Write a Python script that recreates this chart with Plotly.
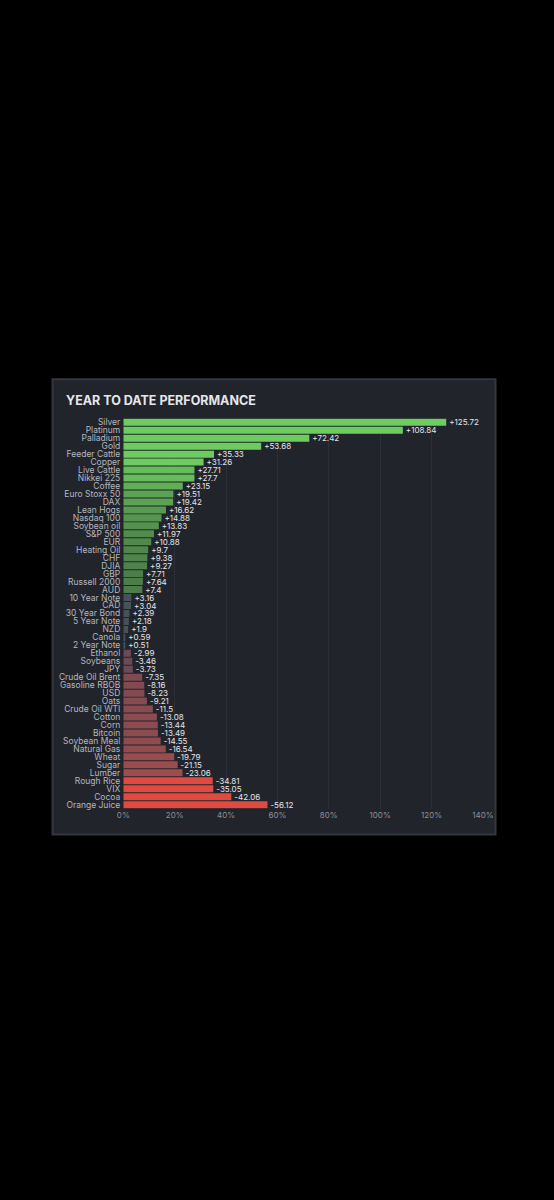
"""
Year to date performance - horizontal bars (absolute %), coloured by sign
"""

import plotly.graph_objects as go

# データ
names = [
    "Silver", "Platinum", "Palladium", "Gold", "Feeder Cattle", "Copper",
    "Live Cattle", "Nikkei 225", "Coffee", "Euro Stoxx 50", "DAX", "Lean Hogs",
    "Nasdaq 100", "Soybean oil", "S&P 500", "EUR", "Heating Oil", "CHF", "DJIA",
    "GBP", "Russell 2000", "AUD", "10 Year Note", "CAD", "30 Year Bond",
    "5 Year Note", "NZD", "Canola", "2 Year Note", "Ethanol", "Soybeans", "JPY",
    "Crude Oil Brent", "Gasoline RBOB", "USD", "Oats", "Crude Oil WTI", "Cotton",
    "Corn", "Bitcoin", "Soybean Meal", "Natural Gas", "Wheat", "Sugar", "Lumber",
    "Rough Rice", "VIX", "Cocoa", "Orange Juice",
]
ytd = [
    125.72, 108.84, 72.42, 53.68, 35.33, 31.26,
    27.71, 27.7, 23.15, 19.51, 19.42, 16.62,
    14.88, 13.83, 11.97, 10.88, 9.7, 9.38, 9.27,
    7.71, 7.64, 7.4, 3.16, 3.04, 2.39,
    2.18, 1.9, 0.59, 0.51, -2.99, -3.46, -3.73,
    -7.35, -8.16, -8.23, -9.21, -11.5, -13.08,
    -13.44, -13.49, -14.55, -16.54, -19.79, -21.15, -23.06,
    -34.81, -35.05, -42.06, -56.12,
]
x_ticks = [0, 20, 40, 60, 80, 100, 120, 140]


def mix(c1, c2, t):
    return "rgb({},{},{})".format(*[round(a + (b - a) * t) for a, b in zip(c1, c2)])


def bar_color(v):
    m = abs(v)
    if v >= 0:
        if m < 5:
            return "rgb(72,80,88)"
        if m >= 30:
            return "rgb(108,204,96)"
        return mix((74, 118, 71), (104, 196, 92), (m - 5) / 25)
    if m < 5:
        return "rgb(106,74,86)"
    if m >= 30:
        return "rgb(224,74,64)"
    return mix((124, 74, 82), (172, 77, 76), (m - 5) / 25)


colors = [bar_color(v) for v in ytd]
labels = [f"{v:+g}" for v in ytd]

W, H = 554, 1200
FONT = "Inter, Noto Sans, sans-serif"

fig = go.Figure(
    go.Bar(
        x=[abs(v) for v in ytd],
        y=names,
        orientation="h",
        marker=dict(color=colors, line=dict(width=0)),
        text=labels,
        textposition="outside",
        constraintext="none",
        cliponaxis=False,
        textfont=dict(color="#e4e6ea", size=8, family=FONT),
        hoverinfo="skip",
    )
)

# パネル背景
fig.add_shape(
    type="rect", xref="paper", yref="paper",
    x0=48 / W, x1=505 / W, y0=1 - 835 / H, y1=1 - 379 / H,
    fillcolor="#22242c", line=dict(color="#34373f", width=2), layer="below",
)

fig.add_annotation(
    text="<b>YEAR TO DATE PERFORMANCE</b>",
    xref="paper", yref="paper", x=60 / W, y=1 - 400 / H,
    xanchor="left", yanchor="middle", showarrow=False,
    font=dict(color="#e6e7ea", size=12.5, family=FONT),
)

fig.update_layout(
    width=W, height=H, autosize=False,
    paper_bgcolor="#000000",
    plot_bgcolor="rgba(0,0,0,0)",
    margin=dict(l=0, r=0, t=0, b=0),
    bargap=0.12,
    showlegend=False,
    font=dict(family=FONT),
    xaxis=dict(
        domain=[121 / W, 492 / W],
        range=[0, 140],
        tickvals=x_ticks,
        ticktext=[f"{t}%" for t in x_ticks],
        tickfont=dict(color="#8c9099", size=8),
        showgrid=True, gridcolor="#2c2f37", gridwidth=1,
        zeroline=False, showline=False, ticks="", ticklen=0,
        fixedrange=True,
    ),
    yaxis=dict(
        domain=[1 - 809 / H, 1 - 418 / H],
        autorange="reversed",
        tickmode="array", tickvals=names, ticktext=names,
        tickfont=dict(color="#b4b7be", size=8.5),
        showgrid=False, zeroline=False, ticks="", ticklabelstandoff=2,
        fixedrange=True,
    ),
)

fig.write_html(
    "out.html",
    config={"displayModeBar": False},
    post_script=(
        "document.body.style.margin='0';"
        "document.body.style.background='#000';"
        "document.body.style.overflow='hidden';"
        "document.documentElement.style.overflow='hidden';"
    ),
)
